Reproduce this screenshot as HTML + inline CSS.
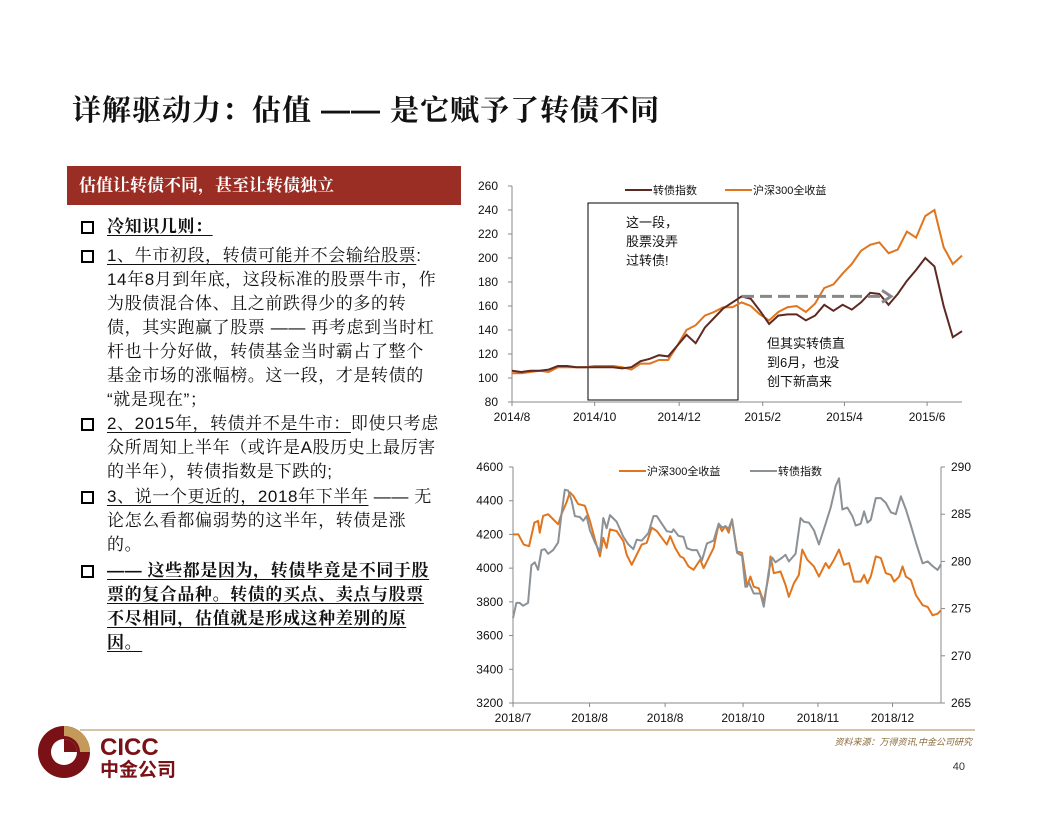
<!DOCTYPE html>
<html><head><meta charset="utf-8">
<style>
body{margin:0;width:1056px;height:816px;background:#fff;position:relative;overflow:hidden;font-family:"Liberation Sans","Noto Sans CJK SC",sans-serif;}
.abs{position:absolute;}
.title{left:72px;top:88px;font-size:29px;font-weight:bold;color:#111;letter-spacing:1px;white-space:nowrap;font-family:"Liberation Sans","Noto Serif CJK SC",serif;}
.hdr{left:67px;top:166px;width:394px;height:39px;background:#9a2e25;color:#fff;font-size:17px;font-weight:bold;line-height:39px;text-indent:12px;font-family:"Liberation Sans","Noto Serif CJK SC",serif;}
.txt{left:107px;font-size:17px;color:#111;line-height:24px;white-space:nowrap;letter-spacing:0.6px;font-family:"Liberation Sans","Noto Serif CJK SC",serif;}
.bul{left:81px;width:9px;height:9px;border:2.5px solid #000;}
u{text-decoration-thickness:1px;text-underline-offset:3px;}
svg text{font-family:"Liberation Sans","Noto Sans CJK SC",sans-serif;}
</style></head><body>
<div class="abs title">详解驱动力：估值 —— 是它赋予了转债不同</div>
<div class="abs hdr">估值让转债不同，甚至让转债独立</div>

<div class="abs bul" style="top:221px"></div>
<div class="abs txt" style="top:215px;font-weight:bold"><u>冷知识几则：</u></div>
<div class="abs bul" style="top:250px"></div>
<div class="abs txt" style="top:244px"><u>1、牛市初段，转债可能并不会输给股票</u>:<br>14年8月到年底，这段标准的股票牛市，作<br>为股债混合体、且之前跌得少的多的转<br>债，其实跑赢了股票 —— 再考虑到当时杠<br>杆也十分好做，转债基金当时霸占了整个<br>基金市场的涨幅榜。这一段，才是转债的<br>“就是现在”；</div>
<div class="abs bul" style="top:418px"></div>
<div class="abs txt" style="top:412px"><u>2、2015年，转债并不是牛市：</u>即使只考虑<br>众所周知上半年（或许是A股历史上最厉害<br>的半年），转债指数是下跌的;</div>
<div class="abs bul" style="top:491px"></div>
<div class="abs txt" style="top:485px"><u>3、说一个更近的，2018年下半年</u> —— 无<br>论怎么看都偏弱势的这半年，转债是涨<br>的。</div>
<div class="abs bul" style="top:565px"></div>
<div class="abs txt" style="top:559px;font-weight:bold"><u>—— 这些都是因为，转债毕竟是不同于股</u><br><u>票的复合品种。转债的买点、卖点与股票</u><br><u>不尽相同，估值就是形成这种差别的原</u><br><u>因。</u></div>

<svg class="abs" style="left:0;top:0" width="1056" height="816">
<g id="top"></g>
<g id="bot"></g>
<line x1="80" y1="730" x2="975" y2="730" stroke="#a88a55" stroke-width="1"/>
<text x="972" y="745" font-size="9" fill="#8a6a3a" font-style="italic" text-anchor="end">资料来源：万得资讯,中金公司研究</text>
<text x="965" y="770" font-size="11" fill="#333" text-anchor="end">40</text>
<g>
<circle cx="64" cy="752" r="26" fill="#7a1116"/>
<path d="M64 726 A26 26 0 0 1 90 752 L80 752 A16 16 0 0 0 64 736 Z" fill="#c49a5a"/>
<circle cx="64" cy="752" r="13" fill="#fff"/>
<path d="M64 739 A13 13 0 0 1 77 752 L64 752 Z" fill="#7a1116"/>
<text x="100" y="755" font-size="24" font-weight="bold" fill="#7a1116">CICC</text>
<text x="100" y="776" font-size="19" font-weight="bold" fill="#7a1116" style="font-family:'Noto Sans CJK SC',sans-serif">中金公司</text>
</g>
</svg>

<script>
// ---------- top chart data ----------
const topTicks=[80,100,120,140,160,180,200,220,240,260];
const topXLabels=['2014/8','2014/10','2014/12','2015/2','2015/4','2015/6'];
const topXLabelIdx=[0,9,18.2,27.3,36.2,45.2];
const cbIndex=[106,105,106,106,107,110,110,109,109,109,109,109,108,109,114,116,119,118,127,136,129,142,150,158,163,168,166,156,145,152,153,153,148,152,161,156,161,157,163,171,170,161,170,181,190,200,193,160,134,139];
const hs300Top=[104,104,105,106,105,109,109,109,109,110,110,110,109,107,112,112,115,115,127,140,144,152,155,159,159,163,160,153,148,155,159,160,155,162,175,178,187,195,206,211,213,204,207,222,217,235,240,209,195,202];

// ---------- bottom chart data ----------
const botLeftTicks=[3200,3400,3600,3800,4000,4200,4400,4600];
const botRightTicks=[265,270,275,280,285,290];
const botXLabels=['2018/7','2018/8','2018/8','2018/10','2018/11','2018/12'];
const botXLabelDay=[0,22.9,45.5,68.8,91.2,113.5];
const hs300Bot=[[0,4200],[1.6,4200],[3.2,4140],[4.8,4130],[6.4,4270],[7.5,4280],[8,4210],[9,4310],[10.5,4320],[12,4290],[13.5,4260],[14.5,4320],[16,4390],[17,4450],[18,4430],[19.5,4380],[21.5,4370],[23,4280],[24.5,4170],[26,4070],[27,4180],[28,4120],[29,4230],[31,4220],[33,4160],[34,4080],[35.5,4020],[37,4080],[38.5,4140],[40,4150],[41.5,4240],[43,4220],[44.5,4180],[46,4140],[47,4190],[48.5,4120],[50,4070],[51,4060],[52.5,4010],[54,3990],[56,4050],[57,4000],[58.5,4060],[60,4120],[61.5,4260],[62.5,4220],[63.5,4250],[64.5,4210],[65.5,4290],[67,4100],[68.5,4090],[70,3890],[71,3950],[72,3890],[73.5,3880],[75,3800],[76.5,3960],[77,4070],[78,3970],[80,3980],[81.5,3900],[82.5,3830],[84,3910],[85.5,3960],[86.5,4110],[88,4050],[90,4010],[91.5,3950],[93.5,4030],[94.5,4000],[96,4050],[97.5,4110],[99,4020],[100.5,4030],[102,3920],[104,3920],[105,3960],[106,3910],[107,3950],[108.5,4070],[110,4060],[111.5,3970],[113,3960],[114,3920],[115.5,3950],[116.5,4010],[117.5,3950],[119,3930],[120.5,3840],[122.5,3780],[124,3770],[125.5,3720],[127,3730],[128,3750]];
const cbBot=[[0,274.0],[1,275.6],[2,275.6],[3,275.3],[4.5,275.6],[5.5,279.6],[6.5,279.9],[7.5,279.1],[8.5,281.2],[9.5,281.3],[10.5,280.8],[12,281.2],[13.5,282.0],[14.5,285.0],[15.5,287.6],[16.5,287.5],[17.5,286.5],[18.5,284.8],[20,284.7],[21,284.3],[22,284.8],[23,283.3],[24.5,282.0],[26,281.0],[27,284.6],[28,283.5],[29,284.9],[31,284.2],[33,282.6],[34.5,281.8],[36,281.3],[37,282.3],[38.5,282.2],[40.5,283.0],[42,284.8],[43,284.8],[44.5,284.0],[46,283.2],[47.5,283.1],[48,283.4],[49.5,282.7],[51,282.6],[52,281.4],[53.5,281.2],[55,281.2],[56.5,280.1],[58,281.9],[60,282.2],[61.5,284.0],[62.5,283.6],[63.5,283.7],[64.5,283.5],[65.5,284.4],[67,280.9],[68.5,280.6],[69.5,277.3],[70.5,277.8],[72,276.6],[74,276.6],[75,275.2],[76.5,279.0],[77.5,280.4],[78.5,279.9],[80.5,280.4],[81.5,280.7],[82.5,280.0],[84.5,280.8],[86,284.6],[87,284.2],[88.5,284.1],[90,283.3],[91.5,281.8],[93.5,284.0],[95,285.7],[96.5,288.0],[97.5,288.8],[98.5,285.5],[100,285.7],[101.5,284.8],[102.5,283.8],[104,284.0],[105,285.3],[106,284.1],[107,284.4],[108.5,286.7],[110,286.7],[111.5,286.2],[113,285.2],[114.5,285.0],[116,286.9],[117.5,285.5],[119,283.8],[120.5,282.0],[122.5,279.8],[124,280.0],[125.5,279.5],[127,279.1],[128,279.7]];

const NS='http://www.w3.org/2000/svg';
function mk(tag,attrs,parent){const e=document.createElementNS(NS,tag);for(const k in attrs)e.setAttribute(k,attrs[k]);parent.appendChild(e);return e;}

// ===== TOP CHART =====
(function(){
const g=document.getElementById('top');
const X0=512,X1=962,Y0=402,Y1=186;
const x=i=>X0+i*(X1-X0)/(cbIndex.length-1);
const y=v=>Y0-(v-80)/(260-80)*(Y0-Y1);
let ax=mk('line',{x1:X0,y1:Y1,x2:X0,y2:Y0,stroke:'#888'},g);


let bx=mk('line',{x1:X0,y1:Y0,x2:X1,y2:Y0,stroke:'#888'},g);


topTicks.forEach(t=>{
 const tk=mk('line',{x1:X0-4,y1:y(t),x2:X0,y2:y(t),stroke:'#888'},g);
 
 
 const tx=mk('text',{x:X0-14,y:y(t)+4,'font-size':12,'text-anchor':'end',fill:'#111'},g);tx.textContent=t;
 
 
});
topXLabels.forEach((l,i)=>{
 const xx=x(topXLabelIdx[i]);
 const tk=mk('line',{x1:xx,y1:Y0,x2:xx,y2:Y0+4,stroke:'#888'},g);
 
 
 const tx=mk('text',{x:xx,y:Y0+19,'font-size':12,'text-anchor':'middle',fill:'#111'},g);tx.textContent=l;
 
 
});
const box=mk('rect',{x:588,y:203,width:150,height:197,fill:'none',stroke:'#000','stroke-width':1},g);


['这一段，','股票没弄','过转债!'].forEach((s,i)=>{const t=mk('text',{x:626,y:227+i*19,'font-size':13,fill:'#111'},g);t.textContent=s;
 
 });
[[hs300Top,'#e0751e','hs300-line'],[cbIndex,'#5c2a22','cb-index-line']].forEach(([d,c,n])=>{
 const p=mk('polyline',{points:d.map((v,i)=>x(i)+','+y(v)).join(' '),fill:'none',stroke:c,'stroke-width':2},g);
 
 
});
const ay=y(cbIndex[25]);
const ar=mk('line',{x1:742,y1:ay,x2:884,y2:ay,stroke:'#888','stroke-width':3,'stroke-dasharray':'12,6'},g);


const ah=mk('polyline',{points:`882,${ay-6} 891,${ay} 882,${ay+6}`,fill:'none',stroke:'#888','stroke-width':3},g);


['但其实转债直','到6月，也没','创下新高来'].forEach((s,i)=>{const t=mk('text',{x:767,y:348+i*19,'font-size':13,fill:'#111'},g);t.textContent=s;
 
 });
[[625,'#5c2a22','转债指数'],[725,'#e0751e','沪深300全收益']].forEach(([lx,c,s])=>{
 const l=mk('line',{x1:lx,y1:190,x2:lx+27,y2:190,stroke:c,'stroke-width':2},g);
 
 
 const t=mk('text',{x:lx+28,y:194,'font-size':11,fill:'#111'},g);t.textContent=s;
 
 
});
})();

// ===== BOTTOM CHART =====
(function(){
const g=document.getElementById('bot');
const X0=513,X1=941,Y0=703,Y1=467,D=128;
const x=d=>X0+d/D*(X1-X0);
const yl=v=>Y0-(v-3200)/1400*(Y0-Y1);
const yr=v=>Y0-(v-265)/25*(Y0-Y1);
[[X0,'bot-left-axis'],[X1,'bot-right-axis']].forEach(([ax,n])=>{const l=mk('line',{x1:ax,y1:Y1,x2:ax,y2:Y0,stroke:'#888'},g);
 
 });
const xa=mk('line',{x1:X0,y1:Y0,x2:X1,y2:Y0,stroke:'#888'},g);


botLeftTicks.forEach(t=>{
 const tk=mk('line',{x1:X0-4,y1:yl(t),x2:X0,y2:yl(t),stroke:'#888'},g);
 
 
 const tx=mk('text',{x:X0-10,y:yl(t)+4,'font-size':12,'text-anchor':'end',fill:'#111'},g);tx.textContent=t;
 
 
});
botRightTicks.forEach(t=>{
 const tk=mk('line',{x1:X1,y1:yr(t),x2:X1+4,y2:yr(t),stroke:'#888'},g);
 
 
 const tx=mk('text',{x:X1+10,y:yr(t)+4,'font-size':12,fill:'#111'},g);tx.textContent=t;
 
 
});
botXLabels.forEach((l,i)=>{
 const xx=x(botXLabelDay[i]);
 const tk=mk('line',{x1:xx,y1:Y0,x2:xx,y2:Y0+4,stroke:'#888'},g);
 
 
 const tx=mk('text',{x:xx,y:Y0+19,'font-size':12,'text-anchor':'middle',fill:'#111'},g);tx.textContent=l;
 
 
});
const p1=mk('polyline',{points:hs300Bot.map(([d,v])=>x(d)+','+yl(v)).join(' '),fill:'none',stroke:'#e0751e','stroke-width':2,'stroke-linejoin':'round'},g);


const p2=mk('polyline',{points:cbBot.map(([d,v])=>x(d)+','+yr(v)).join(' '),fill:'none',stroke:'#8c9196','stroke-width':2,'stroke-linejoin':'round'},g);


[[619,'#e0751e','沪深300全收益'],[750,'#8c9196','转债指数']].forEach(([lx,c,s])=>{
 const l=mk('line',{x1:lx,y1:471,x2:lx+27,y2:471,stroke:c,'stroke-width':2},g);
 
 
 const t=mk('text',{x:lx+28,y:475,'font-size':11,fill:'#111'},g);t.textContent=s;
 
 
});
})();
</script>
</body></html>
